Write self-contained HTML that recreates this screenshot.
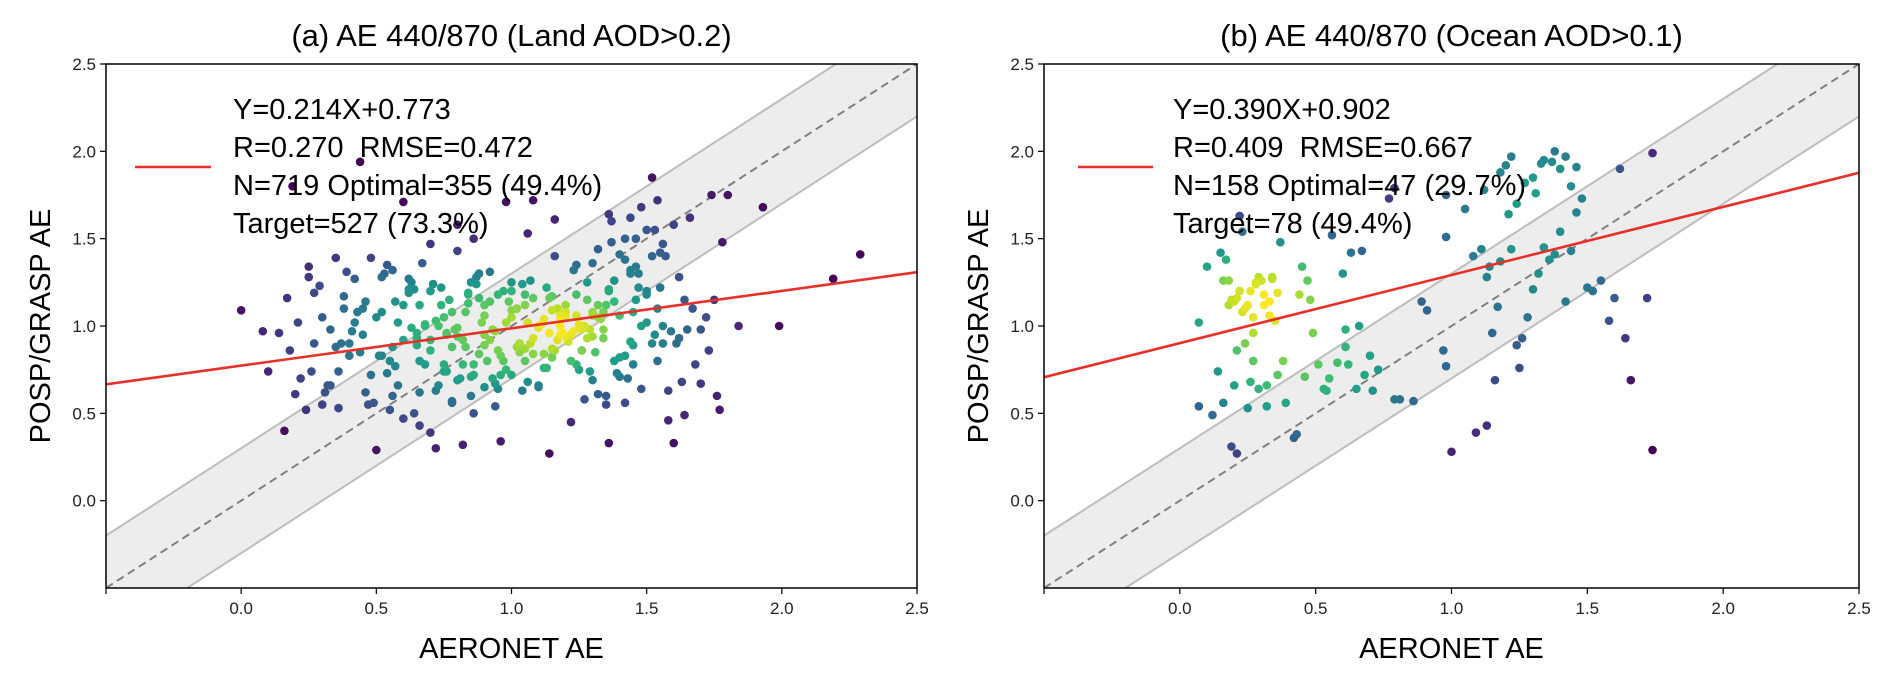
<!DOCTYPE html>
<html><head><meta charset="utf-8">
<style>
html,body{margin:0;padding:0;background:#fff;}
svg{display:block;font-family:"Liberation Sans","DejaVu Sans",sans-serif;}
text{white-space:pre;}
</style></head>
<body>
<svg id="fig" width="1892" height="677" viewBox="0 0 1892 677"></svg>
<script>
// ---- data ----
const xTicks = [0.0, 0.5, 1.0, 1.5, 2.0, 2.5];
const yTicks = [0.0, 0.5, 1.0, 1.5, 2.0, 2.5];
const titles = ["(a) AE 440/870 (Land AOD>0.2)", "(b) AE 440/870 (Ocean AOD>0.1)"];
const slopes = [0.214, 0.390];
const intercepts = [0.773, 0.902];
const statsA = ["Y=0.214X+0.773", "R=0.270  RMSE=0.472", "N=719 Optimal=355 (49.4%)", "Target=527 (73.3%)"];
const statsB = ["Y=0.390X+0.902", "R=0.409  RMSE=0.667", "N=158 Optimal=47 (29.7%)", "Target=78 (49.4%)"];
const landX = [0.00,0.08,0.10,0.14,0.16,0.18,0.17,0.19,0.22,0.24,0.25,0.27,0.29,0.30,0.33,0.35,0.36,0.38,0.40,0.42,0.44,0.46,0.48,0.50,0.52,0.54,0.56,0.58,0.60,0.62,0.64,0.66,0.68,0.70,0.72,0.74,0.76,0.78,0.80,0.82,0.84,0.86,0.88,0.90,0.92,0.94,0.96,0.98,1.00,1.02,1.04,1.06,1.08,1.10,1.12,1.14,1.16,1.18,1.20,1.22,1.24,1.26,1.28,1.30,1.32,1.34,1.36,1.38,1.40,1.42,1.44,1.46,1.48,1.50,1.52,1.54,1.56,1.58,1.60,1.62,1.64,1.66,1.68,1.70,1.72,1.74,1.76,1.78,1.80,1.84,1.93,1.99,2.19,2.29,
0.20,0.26,0.32,0.38,0.44,0.50,0.56,0.62,0.68,0.74,0.80,0.86,0.92,0.98,1.04,1.10,1.16,1.22,1.28,1.34,1.40,1.46,1.52,1.58,1.64,1.70,
0.30,0.36,0.42,0.48,0.54,0.60,0.66,0.72,0.78,0.84,0.90,0.96,1.02,1.08,1.14,1.20,1.26,1.32,1.38,1.44,1.50,1.56,1.62,
0.40,0.46,0.52,0.58,0.64,0.70,0.76,0.82,0.88,0.94,1.00,1.06,1.12,1.18,1.24,1.30,1.36,1.42,1.48,1.54,
0.70,0.75,0.80,0.85,0.90,0.95,1.00,1.05,1.10,1.15,1.20,1.25,1.30,1.35,1.40,1.17,1.22,1.27,1.32,1.12,1.19,1.24,1.29,1.34,0.88,0.93,0.83,0.98,1.03,
0.45,0.55,0.65,0.75,0.85,0.95,1.05,1.15,1.25,1.35,1.45,1.55,0.60,0.70,0.80,0.90,1.00,1.10,1.20,1.30,1.40,1.50,0.62,1.08,1.18,1.28,1.38,0.78,0.86,0.96,
0.21,0.27,0.31,0.37,0.43,0.47,0.53,0.57,0.63,0.67,0.73,0.77,0.83,0.87,0.93,0.97,1.03,1.07,1.13,1.17,1.23,1.27,1.33,1.37,1.43,1.47,1.53,1.57,1.63,1.67,1.73,1.77,
0.25,0.35,0.45,0.55,0.65,0.75,0.85,0.95,1.05,1.15,1.25,1.35,1.45,1.55,1.65,1.75,
0.33,0.41,0.49,0.57,0.65,0.73,0.81,0.89,0.97,1.05,1.13,1.21,1.29,1.37,1.45,1.53,1.61,
0.39,0.51,0.63,0.71,0.79,0.87,0.91,0.99,1.07,1.11,1.15,1.19,1.23,1.31,1.39,1.47,1.59,
0.68,0.76,0.84,0.92,1.00,1.08,1.16,1.24,1.32,0.72,0.82,0.94,1.02,1.14,1.26,1.36,1.44,0.66,0.78,0.90,1.06,1.18,1.30,1.42,
1.44,1.50,1.56,1.48,1.54,1.60,1.36,1.42,1.52,1.46,0.60,0.66,0.70,0.56,0.52,0.80,0.86];
const landY = [1.09,0.97,0.74,0.96,0.40,0.86,1.16,1.80,0.70,0.52,1.34,0.90,1.23,0.55,0.98,1.39,0.74,1.10,0.83,1.27,1.94,0.62,1.39,0.29,1.08,1.35,0.88,0.66,1.71,1.19,0.50,1.12,1.00,1.47,0.30,1.22,0.96,0.57,1.43,0.32,1.13,0.78,1.30,0.65,1.14,0.54,0.34,1.71,1.20,0.88,0.63,1.53,1.72,1.00,0.76,0.27,1.61,0.95,1.12,0.45,1.35,0.86,1.15,0.69,1.44,0.98,0.33,1.26,1.41,0.56,0.91,1.50,0.64,1.20,1.85,0.80,1.00,0.63,0.33,1.28,0.49,1.62,0.78,0.98,1.05,1.75,0.60,1.48,1.75,1.00,1.68,1.00,1.27,1.41,
0.61,0.74,0.66,1.17,0.85,1.05,0.60,1.21,0.78,1.12,0.94,0.50,1.31,0.75,1.24,0.66,1.40,0.80,1.25,1.08,0.71,1.15,0.90,0.46,1.15,0.67,
1.05,0.53,1.02,0.72,0.73,0.92,0.62,1.03,0.88,1.18,1.06,0.72,1.10,0.93,1.16,1.08,0.98,1.05,1.14,1.30,1.18,0.90,0.93,
0.90,1.14,0.83,1.02,1.21,0.86,0.95,0.78,1.16,0.97,1.09,1.02,0.84,1.03,1.06,0.94,1.20,0.83,1.00,1.10,
0.92,1.05,0.99,0.71,0.95,0.86,1.05,1.12,0.99,1.09,1.05,1.01,1.08,1.12,1.06,1.10,0.95,1.00,1.12,1.04,0.96,1.18,0.98,0.93,0.84,0.98,1.08,1.02,0.90,
0.95,0.80,0.89,0.74,0.60,1.18,0.80,0.87,0.75,0.60,0.78,1.22,1.12,1.20,0.69,0.89,1.25,0.65,0.94,1.36,0.82,1.02,1.27,0.84,1.06,0.93,0.80,0.56,0.72,0.83,
1.02,1.19,0.62,0.90,1.08,0.55,1.30,0.77,0.99,1.36,0.66,1.15,0.88,1.28,0.70,1.20,0.85,1.26,0.76,0.92,1.32,0.58,1.04,1.48,0.70,1.22,0.95,1.40,0.68,1.10,0.86,0.52,
1.28,0.88,1.10,0.52,0.93,0.78,1.25,0.64,1.18,0.82,1.00,0.55,0.89,1.42,0.98,1.15,
0.66,0.97,0.56,1.14,0.96,1.00,0.70,1.02,0.80,0.87,1.22,0.91,0.74,1.60,1.08,1.55,0.90,
1.31,0.83,1.25,1.24,0.98,1.24,0.80,1.14,0.90,1.01,1.17,1.07,0.97,0.85,0.73,1.30,0.97,
1.01,0.74,1.19,0.92,0.72,1.16,0.86,0.78,0.61,0.63,0.92,0.67,1.10,0.96,0.86,1.21,1.32,0.80,1.08,1.12,0.68,1.00,1.06,1.38,
1.62,1.55,1.47,1.68,1.72,1.58,1.64,1.50,1.40,1.34,0.47,0.43,0.39,1.32,1.28,1.58,1.50];
const oceanX = [0.07,0.07,0.10,0.12,0.14,0.15,0.16,0.17,0.18,0.19,0.20,0.21,0.21,0.22,0.23,0.24,0.25,0.26,0.27,0.27,0.28,0.29,0.30,0.31,0.32,0.33,0.34,0.35,0.36,0.37,0.39,0.42,0.43,0.45,0.46,0.47,0.48,0.51,0.53,0.54,0.56,0.58,0.60,0.61,0.62,0.63,0.65,0.66,0.67,0.70,0.71,0.73,0.77,0.79,0.79,0.81,0.86,0.89,0.91,0.97,0.98,0.98,0.98,1.00,1.05,1.08,1.09,1.11,1.13,1.13,1.14,1.15,1.16,1.17,1.18,1.20,1.22,1.24,1.25,1.26,1.28,1.30,1.32,1.34,1.36,1.38,1.40,1.42,1.44,1.46,1.48,1.50,1.52,1.55,1.58,1.60,1.62,1.64,1.66,1.72,1.74,1.74,
0.20,0.22,0.24,0.18,0.29,0.26,0.31,0.33,0.36,0.23,0.28,0.19,0.25,0.34,1.30,1.34,1.40,1.44,1.24,1.37,
0.16,0.21,0.27,0.32,0.38,0.44,0.49,0.55,0.61,0.68,1.12,1.18,1.22,1.27,1.33,1.38,1.42,1.46,1.21,1.31];
const oceanY = [1.02,0.54,1.34,0.49,0.74,1.42,0.56,1.38,1.12,0.31,0.66,0.27,1.16,1.63,1.54,0.90,0.53,0.68,0.80,1.05,1.25,0.64,1.26,1.12,0.54,1.06,1.27,1.03,0.72,1.48,0.56,0.36,0.38,1.34,0.71,1.26,1.15,0.78,0.64,0.63,1.52,0.79,1.30,0.98,0.78,1.42,0.64,1.00,1.43,0.83,0.63,0.75,1.73,0.58,1.79,0.58,0.57,1.14,1.09,0.86,1.51,0.77,1.75,0.28,1.67,1.40,0.39,1.44,0.43,1.28,1.34,0.96,0.69,1.11,1.37,1.92,1.44,0.89,0.76,0.93,1.05,1.21,1.30,1.45,1.38,1.41,1.54,1.14,1.43,1.65,1.73,1.22,1.20,1.26,1.03,1.16,1.90,0.93,0.69,1.16,1.99,0.29,
1.14,1.20,1.10,1.26,1.28,1.20,1.18,1.14,1.19,1.08,1.24,1.15,1.12,1.28,1.85,1.95,1.90,1.80,1.70,1.94,
1.26,0.86,0.96,0.66,0.80,1.18,0.96,0.70,0.88,0.72,1.78,1.88,1.97,1.82,1.93,2.00,1.97,1.91,1.64,1.76];

// ---- helpers ----
const NS = "http://www.w3.org/2000/svg";
const svg = document.getElementById('fig');
function mk(tag, attrs, parent){
  const e = document.createElementNS(NS, tag);
  for (const k in attrs) e.setAttribute(k, attrs[k]);
  (parent||svg).appendChild(e);
  return e;
}
function viridis(t){
  const s=[[68,1,84],[72,40,120],[62,74,137],[49,104,142],[38,130,142],[31,158,137],[53,183,121],[109,205,89],[180,222,44],[253,231,37]];
  t=Math.max(0,Math.min(1,t))*(s.length-1);
  const i=Math.min(Math.floor(t),s.length-2), f=t-i;
  const c=s[i].map((v,k)=>Math.round(v+(s[i+1][k]-v)*f));
  return `rgb(${c[0]},${c[1]},${c[2]})`;
}
const panels = [
  {L:106,R:917,T:64,B:588,xs:landX,ys:landY,stats:statsA,tx:233,lx1:135,lx2:211,bw:0.14},
  {L:1044,R:1859,T:64,B:588,xs:oceanX,ys:oceanY,stats:statsB,tx:1173,lx1:1078,lx2:1153,bw:0.22}
];
panels.forEach((p,pi)=>{
  const g = mk('g',{});
  
  
  const X = v => p.L + (v+0.5)/3*(p.R-p.L);
  const Y = v => p.B - (v+0.5)/3*(p.B-p.T);
  const clipId='clip'+pi;
  const cp = mk('clipPath',{id:clipId},g);
  mk('rect',{x:p.L,y:p.T,width:p.R-p.L,height:p.B-p.T},cp);
  const plot = mk('g',{'clip-path':`url(#${clipId})`},g);
  const band = mk('polygon',{points:`${X(-0.5)},${Y(-0.2)} ${X(3)},${Y(3.3)} ${X(3)},${Y(2.7)} ${X(-0.2)},${Y(-0.5)} ${X(-0.5)},${Y(-0.8)}`,fill:'#ededed',stroke:'none'},plot);
  
  
  const up = mk('line',{x1:X(-0.5),y1:Y(-0.2),x2:X(3),y2:Y(3.3),stroke:'#bdbdbd','stroke-width':2},plot);
   
  const lo = mk('line',{x1:X(-0.5),y1:Y(-0.8),x2:X(3),y2:Y(2.7),stroke:'#bdbdbd','stroke-width':2},plot);
   
  const one = mk('line',{x1:X(-0.5),y1:Y(-0.5),x2:X(2.5),y2:Y(2.5),stroke:'#808080','stroke-width':2,'stroke-dasharray':'8,5'},plot);
   
  const n=p.xs.length, dens=[];
  for(let i=0;i<n;i++){let c=0;for(let j=0;j<n;j++){const dx=p.xs[i]-p.xs[j],dy=p.ys[i]-p.ys[j];c+=Math.exp(-(dx*dx+dy*dy)/(2*p.bw*p.bw));}dens.push(c);}
  const mn=Math.min(...dens),mx=Math.max(...dens);
  const order=[...Array(n).keys()].sort((a,b)=>dens[a]-dens[b]);
  order.forEach(i=>{
    const c=mk('circle',{cx:X(p.xs[i]),cy:Y(p.ys[i]),r:4.3,fill:viridis((dens[i]-mn)/(mx-mn))},plot);
    
    
  });
  const fit = mk('line',{x1:X(-0.5),y1:Y(slopes[pi]*-0.5+intercepts[pi]),x2:X(2.5),y2:Y(slopes[pi]*2.5+intercepts[pi]),stroke:'#e8302a','stroke-width':2.6},plot);
   
  const fr = mk('rect',{x:p.L,y:p.T,width:p.R-p.L,height:p.B-p.T,fill:'none',stroke:'#000','stroke-width':1.5},g);
   
  xTicks.forEach(v=>{
    mk('line',{x1:X(v),y1:p.B,x2:X(v),y2:p.B+6,stroke:'#000','stroke-width':1.2},g);
    const t=mk('text',{x:X(v),y:p.B+26,'font-size':17,'text-anchor':'middle',fill:'#222'},g);
    t.textContent=v.toFixed(1);
     
  });
  mk('line',{x1:p.L,y1:p.B,x2:p.L,y2:p.B+6,stroke:'#000','stroke-width':1.2},g);
  yTicks.forEach(v=>{
    mk('line',{x1:p.L-6,y1:Y(v),x2:p.L,y2:Y(v),stroke:'#000','stroke-width':1.2},g);
    const t=mk('text',{x:p.L-10,y:Y(v)+6,'font-size':17,'text-anchor':'end',fill:'#222'},g);
    t.textContent=v.toFixed(1);
     
  });
  const title=mk('text',{x:(p.L+p.R)/2,y:46,'font-size':31,'text-anchor':'middle',fill:'#000'},g);
  title.textContent=titles[pi];
   
  const xl=mk('text',{x:(p.L+p.R)/2,y:658,'font-size':29,'text-anchor':'middle',fill:'#000'},g);
  xl.textContent='AERONET AE';
   
  const yl=mk('text',{x:0,y:0,'font-size':29,'text-anchor':'middle',fill:'#000',transform:`translate(${p.L-56},${(p.T+p.B)/2}) rotate(-90)`},g);
  yl.textContent='POSP/GRASP AE';
   
  const ll=mk('line',{x1:p.lx1,y1:167,x2:p.lx2,y2:167,stroke:'#e8302a','stroke-width':2.6},g);
   
  p.stats.forEach((s,k)=>{
    const t=mk('text',{x:p.tx,y:119+k*38,'font-size':29,fill:'#000'},g);
    t.textContent=s;
     
  });
});
</script>
</body></html>
